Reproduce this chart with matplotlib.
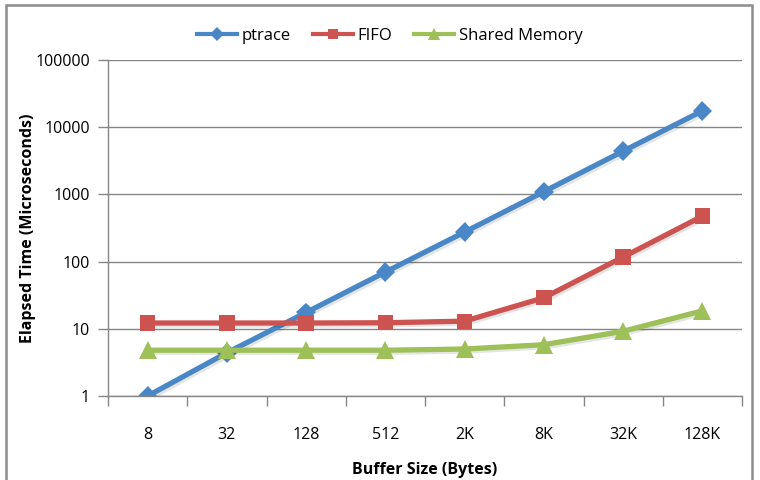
import matplotlib.pyplot as plt
from matplotlib.patches import Rectangle
import matplotlib.patheffects as pe

plt.rcParams['font.family'] = ['Open Sans', 'DejaVu Sans']

sizes = ['8', '32', '128', '512', '2K', '8K', '32K', '128K']
ptrace = [1, 4.4, 17.5, 70, 275, 1100, 4400, 17500]
fifo = [12.2, 12.2, 12.2, 12.3, 13, 29, 117, 475]
shm = [4.8, 4.8, 4.8, 4.8, 5.0, 5.8, 9.2, 18.5]

fig = plt.figure(figsize=(7.6, 4.8), dpi=100)
ax = fig.add_axes([108/760, 1-396/480, 634/760, 336/480])

# border round the whole picture
fig.patches.append(Rectangle((6/760, -0.05), 746/760, 1.05-5/480,
                             transform=fig.transFigure, fill=False,
                             edgecolor='#8c8c8c', linewidth=1.8))

x = list(range(len(sizes)))
shadow = [pe.SimpleLineShadow(offset=(1.5, -1.5), alpha=0.1), pe.Normal()]
ax.plot(x, ptrace, color='#4A87C6', lw=3.8, marker='D', ms=10, mew=0, label='ptrace', path_effects=shadow)
ax.plot(x, fifo, color='#CC534F', lw=3.8, marker='s', ms=11, mew=0, label='FIFO', path_effects=shadow)
ax.plot(x, shm, color='#9DC058', lw=3.8, marker='^', ms=13, mew=0, label='Shared Memory', path_effects=shadow)

ax.set_yscale('log')
ax.set_ylim(1, 100000)
ax.set_yticks([1, 10, 100, 1000, 10000, 100000])
ax.set_yticklabels(['1', '10', '100', '1000', '10000', '100000'])
ax.minorticks_off()
ax.set_xlim(-0.5, len(sizes) - 0.5)
ax.set_xticks(x)
ax.set_xticklabels(sizes)
ax.set_xticks([i - 0.5 for i in range(len(sizes) + 1)], minor=True)
ax.tick_params(axis='x', which='major', length=0, pad=22, labelsize=11.5)
ax.tick_params(axis='x', which='minor', length=7, color='#868686', width=1)
ax.tick_params(axis='y', length=7, color='#868686', width=1, labelsize=11.5, pad=6)
ax.grid(axis='y', color='#868686', lw=1)
ax.set_axisbelow(True)
for s in ['top', 'right']:
    ax.spines[s].set_visible(False)
for s in ['left', 'bottom']:
    ax.spines[s].set_color('#868686')
    ax.spines[s].set_linewidth(1)

ax.set_xlabel('Buffer Size (Bytes)', fontweight='bold', fontsize=11.5, labelpad=14)
ax.set_ylabel('Elapsed Time (Microseconds)', fontweight='bold', fontsize=11.5)
ax.yaxis.set_label_coords(-72/634, 0.5)

leg = ax.legend(loc='center', bbox_to_anchor=(390/760, 1-36/480), bbox_transform=fig.transFigure,
                ncol=3, frameon=False, fontsize=12, handlelength=2.4, columnspacing=1.3,
                handletextpad=0.3, markerscale=0.7)
for h in leg.get_lines():
    h.set_linewidth(3)
    h.set_path_effects([])

fig.savefig('out.png', dpi=100)
